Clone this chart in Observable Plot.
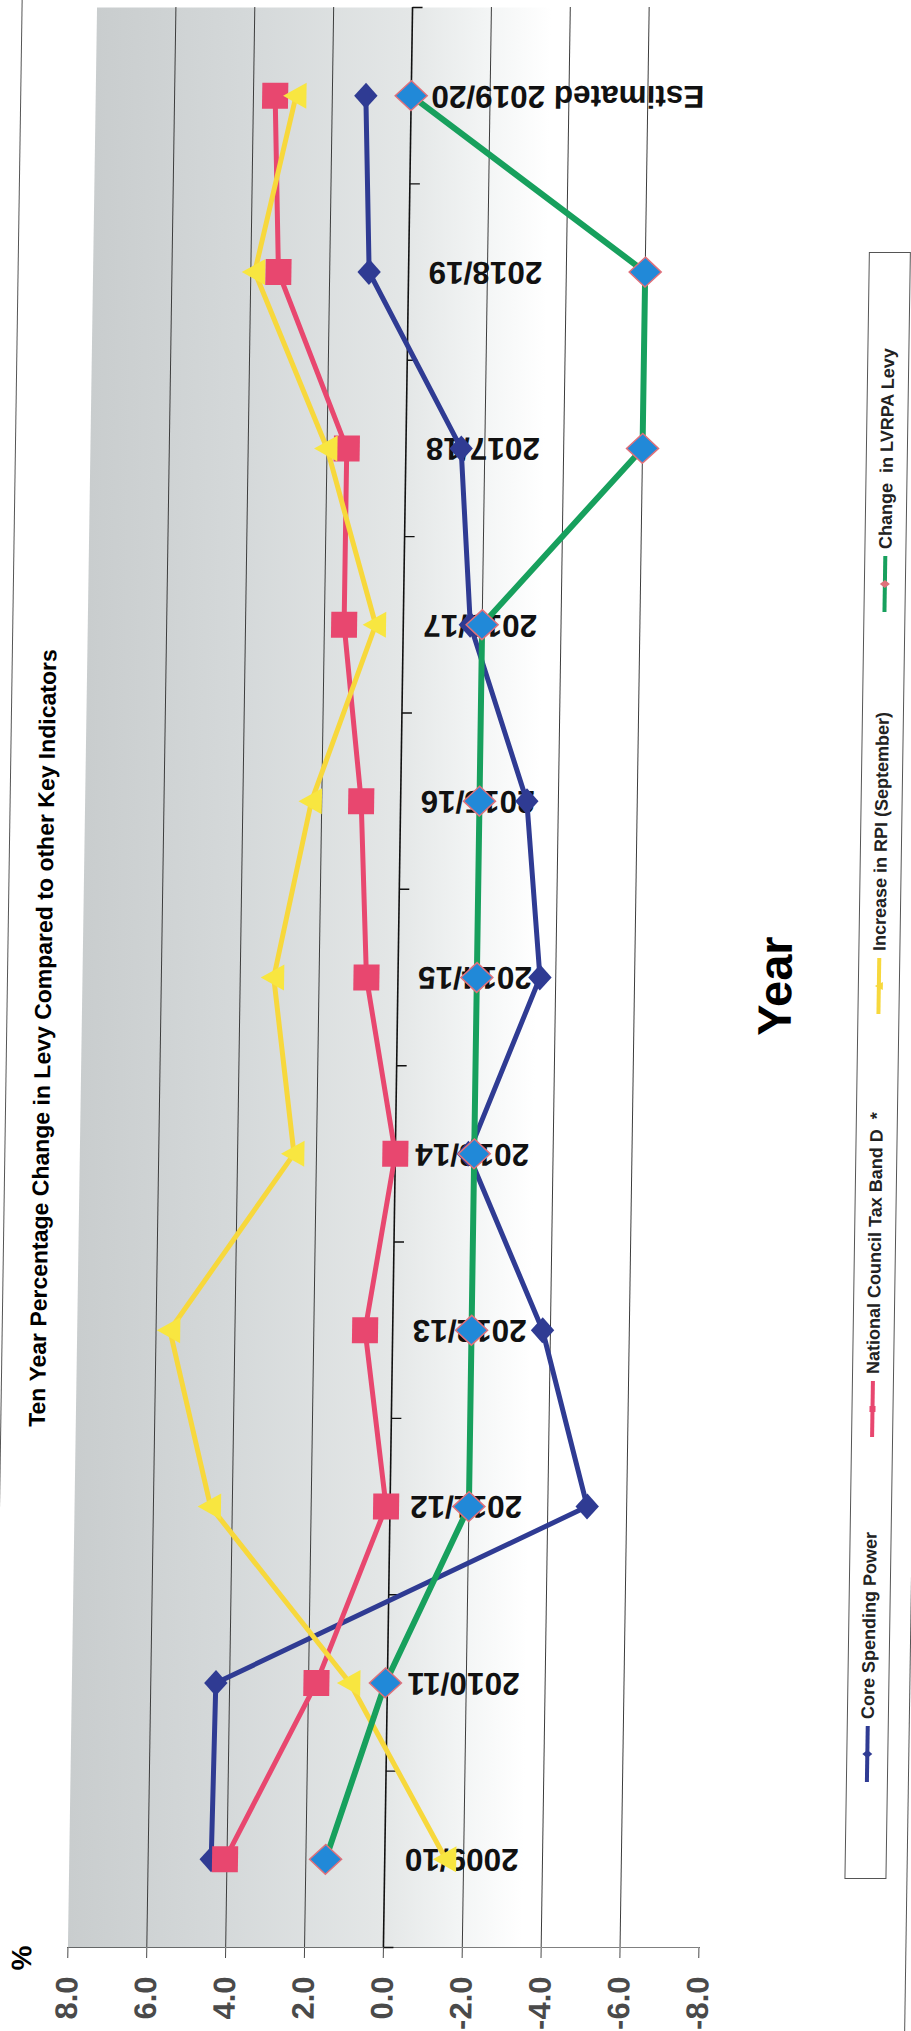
<!DOCTYPE html>
<html>
<head>
<meta charset="utf-8">
<script src="https://cdn.jsdelivr.net/npm/d3@7"></script>
<script src="https://cdn.jsdelivr.net/npm/@observablehq/plot@0.6"></script>
<style>
  html, body { margin: 0; padding: 0; background: #fff; width: 911px; height: 2031px; overflow: hidden; }
  #page { position: relative; width: 911px; height: 2031px; transform: skewX(-0.86deg); transform-origin: 0 976px;
          font-family: "Liberation Sans", Arial, sans-serif; color: #000; }
  #page > svg { position: absolute; left: 0; top: 0; }
  #page g[aria-label^="x-axis"] { color: #4a4a4a; }
  #page g[aria-label^="x-axis"] text { font-size: 31px; font-weight: bold; fill: #4a4a4a; }
  .rot { position: absolute; white-space: pre; transform: translate(-50%, -50%) rotate(-90deg); font-weight: bold; line-height: 1; }
  .frameline { position: absolute; top: -80px; height: 2200px; width: 0; border-left: 1.3px solid #555; }
  #legend { position: absolute; left: 0; top: 0; width: 1627px; height: 42px; box-sizing: border-box;
            border: 1.3px solid #555; transform-origin: 0 0; transform: translate(858px, 1879px) rotate(-90deg); }
  #legend .item { position: absolute; top: 0; height: 40px; display: flex; align-items: center; white-space: pre;
          font-size: 18px; font-weight: bold; color: #222; }
  #legend .item svg { position: static; display: block; margin-right: 7px; flex: none; }
</style>
</head>
<body>
<div id="page"></div>
<script>
// ---------- data ----------
const categories = ["2009/10", "2010/11", "2011/12", "2012/13", "2013/14", "2014/15",
                    "2015/16", "2016/17", "2017/18", "2018/19", "Estimated 2019/20"];
const coreSpendingPower = [4.4, 4.35, -5.0, -3.8, -1.85, -3.6, -3.2, -1.7, -1.4, 1.0, 1.15];
const councilTaxBandD   = [4.05, 1.8, 0.1, 0.7, 0.0, 0.8, 1.0, 1.5, 1.5, 3.3, 3.45];
const rpiSeptember      = [-1.55, 0.95, 4.55, 5.65, 2.57, 3.15, 2.26, 0.7, 2.0, 3.9, 2.92];
const lvrpaLevy         = [1.5, 0.05, -2.0, -2.0, -2.0, -2.0, -2.0, -2.0, -6.0, -6.0, 0.0];
const valueTicks = [8, 6, 4, 2, 0, -2, -4, -6, -8];
const gridValues = [6, 4, 2, -2, -4, -6];
const seriesNames = ["Core Spending Power", "National Council Tax Band D  *",
                     "Increase in RPI (September)", "Change  in LVRPA Levy"];
const titleText = "Ten Year Percentage Change in Levy Compared to other Key Indicators";
const xTitle = "Year";
const yTitle = "%";

// ---------- helpers ----------
const rowsFor = vals => categories.map((c, i) => ({cat: c, i, v: vals[i]}));
const boundaries = d3.range(categories.length + 1).map(k => k - 0.5);
const rad = s => Math.sqrt(s / Math.PI);
const sym = {
  diamond:   {draw(c, s) { const r = rad(s); c.moveTo(0, -r); c.lineTo(r * 0.9, 0); c.lineTo(0, r); c.lineTo(-r * 0.9, 0); c.closePath(); }},
  diamondW:  {draw(c, s) { const r = rad(s); c.moveTo(0, -r * 0.93); c.lineTo(r, 0); c.lineTo(0, r * 0.93); c.lineTo(-r, 0); c.closePath(); }},
  square:    {draw(c, s) { const r = rad(s); c.rect(-r, -r, 2 * r, 2 * r); }},
  triLeft:   {draw(c, s) { const r = rad(s); c.moveTo(-r, 0); c.lineTo(r * 0.8, -r); c.lineTo(r * 0.8, r); c.closePath(); }},
  tickRight: {draw(c, s) { const r = rad(s); c.moveTo(0, 0); c.lineTo(r, 0); }}
};

const series = [
  {name: seriesNames[0], values: coreSpendingPower, stroke: "#2f3b93", width: 5, symbol: sym.diamond, r: 13, fill: "#2f3b93", mstroke: "none"},
  {name: seriesNames[1], values: councilTaxBandD,   stroke: "#e8476f", width: 5, symbol: sym.square,  r: 13, fill: "#e8476f", mstroke: "none"},
  {name: seriesNames[2], values: rpiSeptember,      stroke: "#f7d83c", width: 5, symbol: sym.triLeft, r: 13, fill: "#f8e640", mstroke: "none"},
  {name: seriesNames[3], values: lvrpaLevy,         stroke: "#17a05d", width: 6, symbol: sym.diamondW, r: 16, fill: "#2189d8", mstroke: "#e0707a"}
];

const marks = [
  Plot.frame({fill: "url(#plotBg)", stroke: "none"}),
  Plot.ruleX(gridValues, {stroke: "#3c3c3c", strokeWidth: 1}),
  Plot.ruleX([0], {stroke: "#111", strokeWidth: 1.6}),
  Plot.dot(boundaries, {x: 0, y: d => d, symbol: sym.tickRight, r: 10, stroke: "#111", fill: "none", strokeWidth: 1.4}),
  Plot.text(categories, {x: 0, y: (d, i) => i, text: d => d, rotate: 180, textAnchor: "end", lineAnchor: "middle",
                         dx: 20, fontSize: 31.5, fontWeight: "bold", fill: "#111"})
];
for (const s of series) {
  const rows = rowsFor(s.values);
  marks.push(Plot.line(rows, {x: "v", y: "i", stroke: s.stroke, strokeWidth: s.width, strokeLinejoin: "round"}));
  marks.push(Plot.dot(rows, {x: "v", y: "i", symbol: s.symbol, r: s.r, fill: s.fill, stroke: s.mstroke, strokeWidth: 1.5}));
}

const svg = Plot.plot({
  width: 911,
  height: 2031,
  marginLeft: 82,
  marginRight: 198,
  marginTop: 7,
  marginBottom: 84,
  style: {background: "transparent", fontFamily: "Liberation Sans, Arial, sans-serif", overflow: "visible"},
  x: {domain: [8, -8], ticks: valueTicks, tickFormat: d => d.toFixed(1), tickRotate: -90,
      tickSize: 11, tickPadding: 18, line: true, label: null},
  y: {domain: [-0.5, categories.length - 0.5], axis: null},
  marks
});

// gradient background of the plot area
const ns = "http://www.w3.org/2000/svg";
const defs = document.createElementNS(ns, "defs");
const grad = document.createElementNS(ns, "linearGradient");
grad.setAttribute("id", "plotBg");
grad.setAttribute("x1", "0"); grad.setAttribute("x2", "1"); grad.setAttribute("y1", "0"); grad.setAttribute("y2", "0");
[[0, "#c9cdce"], [0.25, "#d5d9da"], [0.5, "#e4e7e7"], [0.62, "#f3f5f5"], [0.72, "#ffffff"], [1, "#ffffff"]].forEach(([o, c]) => {
  const st = document.createElementNS(ns, "stop");
  st.setAttribute("offset", o); st.setAttribute("stop-color", c);
  grad.appendChild(st);
});
defs.appendChild(grad);
svg.insertBefore(defs, svg.firstChild);

const page = document.getElementById("page");
page.appendChild(svg);

// outer chart frame edges
for (const x of [7, 920]) {
  const d = document.createElement("div");
  d.className = "frameline"; d.style.left = x + "px";
  page.appendChild(d);
}

// rotated texts
function rotText(text, x, y, size) {
  const d = document.createElement("div");
  d.className = "rot"; d.textContent = text;
  d.style.left = x + "px"; d.style.top = y + "px"; d.style.fontSize = size + "px";
  page.appendChild(d);
}
rotText(titleText, 44, 1038, 23);
rotText(xTitle, 775, 986, 47);
rotText(yTitle, 37, 1958, 28);

// legend (built horizontally then turned)
const legend = document.createElement("div");
legend.id = "legend";
const itemStarts = [96, 441, 864, 1266];
const swatchMarker = [
  (c) => `<path d="M28,16 L32,21 L28,26 L24,21Z" fill="${c}"/>`,
  (c) => `<rect x="25" y="18" width="6" height="6" fill="${c}"/>`,
  (c) => `<path d="M28,17 L32,25 L24,25Z" fill="${c}"/>`,
  (c) => `<path d="M28,16 L32,21 L28,26 L24,21Z" fill="#e0707a"/>`
];
series.forEach((s, k) => {
  const it = document.createElement("div");
  it.className = "item";
  it.style.left = itemStarts[k] + "px";
  it.innerHTML = `<svg width="56" height="42" viewBox="0 0 56 42"><line x1="0" y1="21" x2="56" y2="21" stroke="${s.stroke}" stroke-width="4"/>${swatchMarker[k](s.stroke)}</svg>`;
  const span = document.createElement("span");
  span.textContent = s.name;
  it.appendChild(span);
  legend.appendChild(it);
});
page.appendChild(legend);
</script>
</body>
</html>
